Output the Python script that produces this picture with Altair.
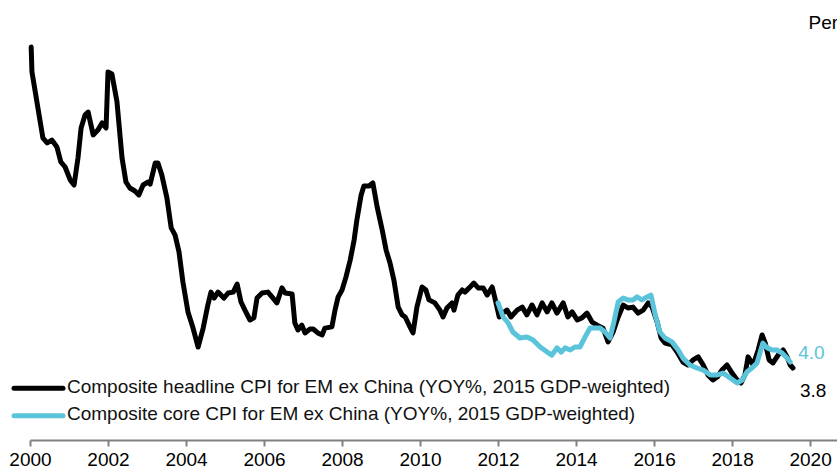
import altair as alt
import pandas as pd

# Composite headline CPI for EM ex China, YoY %, (decimal year, value)
headline_t = [
    2000.03, 2000.05, 2000.33, 2000.44, 2000.56, 2000.69, 2000.79, 2000.90,
    2001.03, 2001.13, 2001.23, 2001.31, 2001.41, 2001.49, 2001.62, 2001.74,
    2001.85, 2001.95, 2002.00, 2002.10, 2002.23, 2002.36, 2002.46, 2002.56,
    2002.69, 2002.79, 2002.90, 2003.03, 2003.08, 2003.21, 2003.28, 2003.38,
    2003.51, 2003.62, 2003.72, 2003.82, 2003.92, 2004.05, 2004.18, 2004.31,
    2004.44, 2004.56, 2004.64, 2004.72, 2004.82, 2004.97, 2005.08, 2005.21,
    2005.31, 2005.41, 2005.51, 2005.64, 2005.74, 2005.82, 2005.95, 2006.10,
    2006.23, 2006.33, 2006.46, 2006.54, 2006.72, 2006.79, 2006.87, 2006.97,
    2007.05, 2007.18, 2007.26, 2007.38, 2007.49, 2007.56, 2007.74, 2007.82,
    2007.90, 2008.00, 2008.10, 2008.21, 2008.31, 2008.38, 2008.49, 2008.56,
    2008.69, 2008.79, 2008.90, 2009.03, 2009.13, 2009.23, 2009.33, 2009.44,
    2009.54, 2009.62, 2009.72, 2009.82, 2009.92, 2010.05, 2010.15, 2010.23,
    2010.38, 2010.51, 2010.59, 2010.69, 2010.82, 2010.87, 2010.97, 2011.08,
    2011.15, 2011.26, 2011.38, 2011.49, 2011.62, 2011.72, 2011.85, 2011.92,
    2012.03, 2012.13, 2012.23, 2012.33, 2012.49, 2012.62, 2012.74, 2012.87,
    2013.00, 2013.13, 2013.26, 2013.38, 2013.51, 2013.67, 2013.79, 2013.90,
    2014.03, 2014.15, 2014.28, 2014.41, 2014.54, 2014.69, 2014.82, 2014.95,
    2015.08, 2015.21, 2015.33, 2015.46, 2015.59, 2015.72, 2015.85, 2015.95,
    2016.08, 2016.18, 2016.28, 2016.46, 2016.59, 2016.74, 2016.87, 2017.00,
    2017.13, 2017.26, 2017.38, 2017.51, 2017.62, 2017.74, 2017.87, 2018.00,
    2018.13, 2018.23, 2018.33, 2018.41, 2018.54, 2018.67, 2018.77, 2018.85,
    2018.95, 2019.05, 2019.18, 2019.31, 2019.41, 2019.49, 2019.56,
]
headline_v = [
    14.50, 13.67, 11.47, 11.30, 11.40, 11.17, 10.67, 10.50,
    10.07, 9.90, 10.80, 11.80, 12.23, 12.33, 11.57, 11.73,
    11.97, 11.80, 13.67, 13.60, 12.67, 10.80, 10.00, 9.80,
    9.70, 9.57, 9.90, 10.00, 9.93, 10.63, 10.63, 10.23,
    9.47, 8.47, 8.23, 7.67, 6.67, 5.67, 5.13, 4.50,
    5.13, 5.90, 6.33, 6.13, 6.33, 6.13, 6.30, 6.33,
    6.60, 6.00, 5.73, 5.40, 5.47, 6.13, 6.30, 6.33,
    6.13, 5.97, 6.47, 6.30, 6.27, 5.30, 5.07, 5.23,
    4.97, 5.10, 5.10, 4.97, 4.90, 5.13, 5.17, 5.73,
    6.17, 6.40, 6.83, 7.40, 8.07, 8.73, 9.57, 9.87,
    9.87, 9.97, 9.17, 8.40, 7.73, 7.30, 6.73, 5.83,
    5.57, 5.50, 5.23, 4.97, 5.83, 6.50, 6.40, 6.07,
    5.97, 5.73, 5.50, 5.80, 5.97, 5.73, 6.23, 6.40,
    6.33, 6.47, 6.63, 6.47, 6.47, 6.23, 6.50, 6.13,
    5.50, 5.63, 5.73, 5.50, 5.73, 5.83, 5.57, 5.90,
    5.57, 5.97, 5.67, 5.97, 5.63, 5.97, 5.50, 5.67,
    5.40, 5.47, 5.63, 5.33, 5.23, 5.13, 4.67, 5.00,
    5.50, 5.90, 5.80, 5.83, 5.63, 5.73, 5.97, 5.83,
    5.33, 4.80, 4.63, 4.57, 4.33, 4.00, 3.90, 4.07,
    4.17, 3.90, 3.57, 3.40, 3.50, 3.73, 3.90, 3.63,
    3.40, 3.30, 3.57, 4.17, 3.90, 4.40, 4.90, 4.63,
    4.07, 3.97, 4.23, 4.40, 4.17, 3.90, 3.80,
]

# Composite core CPI for EM ex China, YoY %
core_t = [
    2012.00, 2012.13, 2012.26, 2012.38, 2012.56, 2012.74, 2012.90, 2013.08,
    2013.26, 2013.38, 2013.51, 2013.62, 2013.72, 2013.85, 2013.97, 2014.10,
    2014.23, 2014.36, 2014.49, 2014.62, 2014.74, 2014.87, 2014.97, 2015.08,
    2015.21, 2015.33, 2015.46, 2015.56, 2015.69, 2015.82, 2015.92, 2016.03,
    2016.15, 2016.28, 2016.46, 2016.62, 2016.74, 2016.92, 2017.10, 2017.26,
    2017.44, 2017.62, 2017.77, 2017.95, 2018.13, 2018.26, 2018.38, 2018.51,
    2018.64, 2018.72, 2018.79, 2018.90, 2019.03, 2019.15, 2019.28, 2019.41,
    2019.49,
]
core_v = [
    5.97, 5.50, 5.30, 5.00, 4.80, 4.83, 4.73, 4.50,
    4.33, 4.23, 4.47, 4.33, 4.47, 4.40, 4.50, 4.50,
    4.83, 5.13, 5.13, 5.13, 5.00, 4.80, 5.33, 6.00,
    6.13, 6.07, 6.07, 6.17, 6.07, 6.17, 6.23, 5.57,
    5.00, 4.80, 4.67, 4.40, 4.13, 3.90, 3.80, 3.73,
    3.57, 3.57, 3.63, 3.47, 3.30, 3.40, 3.67, 3.80,
    3.97, 4.33, 4.63, 4.47, 4.40, 4.40, 4.30, 4.13,
    4.00,
]

year_ticks = list(range(2000, 2022, 2))

HEADLINE = "Composite headline CPI for EM ex China (YOY%, 2015 GDP-weighted)"
CORE = "Composite core CPI for EM ex China (YOY%, 2015 GDP-weighted)"
BLACK = "#000000"
CYAN = "#5BC4DA"
FONT = "Liberation Sans, Arial, sans-serif"
FS = 19

headline = pd.DataFrame({"t": headline_t, "v": headline_v})
core = pd.DataFrame({"t": core_t, "v": core_v})
headline_last = headline.tail(1).assign(label=lambda d: d["v"].map("{:.1f}".format))
core_last = core.tail(1).assign(label=lambda d: d["v"].map("{:.1f}".format))

x_enc = alt.X(
    "t:Q",
    scale=alt.Scale(domain=[2000, 2020.69], nice=False, zero=False),
    axis=alt.Axis(
        values=year_ticks, format="d", title=None, grid=False,
        domainColor="#808080", domainWidth=2, tickColor="#808080",
        tickWidth=2, tickSize=6, labelPadding=4, labelFontSize=FS,
        labelColor="#000000", labelFont=FONT, labelFlush=False,
    ),
)
y_enc = alt.Y(
    "v:Q",
    scale=alt.Scale(domain=[1.4, 15.8], nice=False, zero=False),
    axis=alt.Axis(
        orient="right", title="Percent", labels=False, ticks=False,
        domain=False, grid=False, titleAngle=0, titleAlign="left",
        titleBaseline="alphabetic", titleX=-29, titleY=20,
        titleFontSize=FS, titleFontWeight="normal", titleColor="#000000",
        titleFont=FONT,
    ),
)

line_style = dict(strokeWidth=5, strokeJoin="round", strokeCap="round")

headline_line = alt.Chart(headline).mark_line(color=BLACK, **line_style).encode(x=x_enc, y=y_enc)
core_line = alt.Chart(core).mark_line(color=CYAN, **line_style).encode(x=x_enc, y=y_enc)

headline_label = alt.Chart(headline_last).mark_text(
    align="left", baseline="alphabetic", dx=7, dy=29, font=FONT, fontSize=FS, color=BLACK
).encode(x=x_enc, y=y_enc, text="label:N")
core_label = alt.Chart(core_last).mark_text(
    align="left", baseline="alphabetic", dx=8, dy=-3, font=FONT, fontSize=FS, color=CYAN
).encode(x=x_enc, y=y_enc, text="label:N")


def legend_entry(name, color, key_y, text_y):
    src = pd.DataFrame({"name": [name]})
    key = alt.Chart(src).mark_rule(color=color, strokeWidth=5, strokeCap="round").encode(
        x=alt.value(-16), x2=alt.value(33), y=alt.value(key_y)
    )
    txt = alt.Chart(src).mark_text(
        align="left", baseline="alphabetic", font=FONT, fontSize=FS, color="#111111"
    ).encode(x=alt.value(37), y=alt.value(text_y), text="name:N")
    return key + txt


chart = alt.layer(
    headline_line,
    core_line,
    headline_label,
    core_label,
    legend_entry(HEADLINE, BLACK, 380.3, 385),
    legend_entry(CORE, CYAN, 407.7, 412),
).properties(
    width=807,
    height=432,
    autosize=alt.AutoSizeParams(type="none"),
    padding={"left": 30, "top": 8, "right": 0, "bottom": 29},
    background="#ffffff",
).configure_view(stroke=None)

chart.save("out.html", embed_options={"renderer": "svg", "actions": False})
